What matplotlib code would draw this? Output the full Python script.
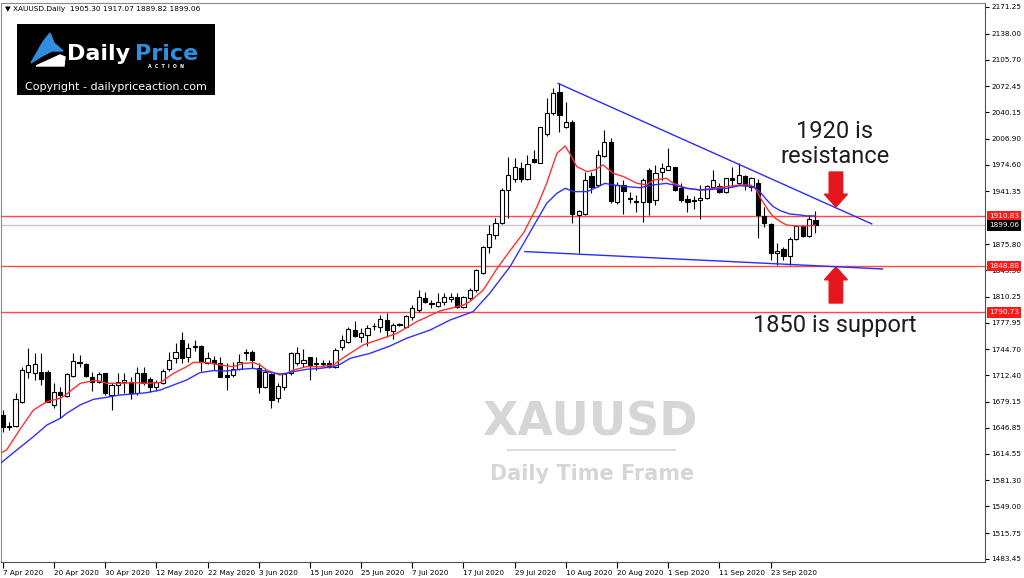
import matplotlib.pyplot as plt
import matplotlib.transforms as mtransforms
from matplotlib.patches import Rectangle, Polygon
import numpy as np

# daily candles 7 Apr 2020 .. 2 Oct 2020
opens = [1662.9, 1649.2, 1649.2, 1679.5, 1716.9, 1715.6, 1716.9, 1716.9, 1675.4, 1691.9,
         1686.6, 1711.5, 1729.3, 1726.4, 1710.7, 1704.4, 1714.8, 1687.8, 1700.3, 1704.4,
         1704.0, 1690.7, 1715.6, 1707.3, 1698.2, 1703.2, 1719.8, 1733.5, 1756.0, 1735.6,
         1748.9, 1748.9, 1727.3, 1731.4, 1728.1, 1712.7, 1712.7, 1719.8, 1741.0, 1741.8,
         1721.0, 1698.2, 1713.5, 1683.7, 1698.2, 1715.6, 1728.1, 1728.1, 1734.7, 1726.4,
         1727.3, 1727.3, 1723.1, 1747.2, 1754.2, 1768.8, 1760.5, 1762.5, 1773.8, 1772.1,
         1781.2, 1767.9, 1775.8, 1772.9, 1784.6, 1793.7, 1809.0, 1802.8, 1798.7, 1804.1,
         1807.0, 1810.3, 1797.8, 1808.2, 1818.6, 1839.4, 1872.7, 1887.2, 1901.7, 1943.3,
         1956.5, 1970.2, 1956.5, 1981.5, 1977.3, 2013.0, 2038.8, 2065.8, 2021.3, 2028.4,
         1912.1, 1913.3, 1960.7, 1949.5, 1985.6, 2003.5, 1928.7, 1949.5, 1932.8, 1930.0,
         1928.7, 1968.2, 1930.8, 1966.1, 1968.2, 1972.3, 1945.3, 1931.6, 1930.8, 1930.8,
         1932.9, 1947.4, 1948.2, 1941.2, 1957.8, 1951.5, 1960.7, 1947.4, 1951.5, 1910.8,
         1900.9, 1864.3, 1869.3, 1861.0, 1881.8, 1898.4, 1885.9, 1905.30]
highs = [1669.1, 1654.6, 1689.9, 1723.1, 1745.9, 1740.0, 1739.7, 1718.9, 1702.3, 1698.2,
         1714.8, 1740.5, 1737.6, 1728.1, 1716.9, 1716.9, 1715.5, 1702.3, 1715.6, 1714.8,
         1709.8, 1723.1, 1723.1, 1710.7, 1706.5, 1719.8, 1741.8, 1752.2, 1766.7, 1752.2,
         1756.3, 1750.1, 1741.0, 1736.4, 1735.6, 1727.3, 1729.3, 1738.9, 1744.7, 1743.9,
         1727.3, 1721.0, 1714.8, 1702.3, 1714.8, 1741.8, 1748.0, 1744.7, 1735.6, 1734.7,
         1731.4, 1731.4, 1745.9, 1762.5, 1772.9, 1780.4, 1770.8, 1775.0, 1777.1, 1787.5,
         1790.4, 1777.1, 1777.9, 1787.5, 1799.9, 1818.6, 1816.5, 1806.1, 1814.5, 1814.5,
         1815.3, 1814.5, 1811.1, 1821.5, 1844.4, 1873.4, 1899.7, 1908.0, 1945.3, 1984.8,
         1982.7, 1978.5, 1986.9, 1993.1, 2022.1, 2057.5, 2069.9, 2076.1, 2053.3, 2030.5,
         1918.3, 1966.1, 1966.1, 1993.1, 2018.0, 2007.6, 1953.6, 1955.7, 1941.2, 1937.0,
         1957.8, 1970.2, 1974.4, 1977.3, 1995.1, 1972.3, 1951.5, 1937.0, 1935.3, 1949.5,
         1949.5, 1968.2, 1951.5, 1957.8, 1972.3, 1976.5, 1961.9, 1959.8, 1956.5, 1922.5,
         1901.7, 1877.6, 1872.6, 1884.3, 1899.6, 1899.6, 1912.1, 1917.07]
lows = [1642.1, 1644.2, 1648.4, 1678.3, 1708.6, 1706.5, 1700.3, 1678.5, 1671.2, 1658.7,
        1685.7, 1710.7, 1723.1, 1710.7, 1693.2, 1702.3, 1687.8, 1669.1, 1689.0, 1690.7,
        1682.8, 1687.8, 1700.3, 1691.9, 1693.2, 1701.5, 1718.1, 1728.1, 1727.3, 1729.3,
        1743.0, 1718.1, 1726.0, 1718.9, 1709.8, 1694.0, 1710.7, 1718.9, 1731.4, 1721.0,
        1690.7, 1696.1, 1671.2, 1679.5, 1694.0, 1712.7, 1725.2, 1723.1, 1706.5, 1718.9,
        1723.1, 1721.0, 1721.0, 1743.9, 1752.2, 1760.5, 1754.2, 1748.8, 1768.8, 1766.7,
        1759.6, 1757.1, 1773.8, 1770.8, 1781.2, 1791.6, 1802.0, 1795.8, 1797.8, 1799.9,
        1804.1, 1795.8, 1795.8, 1806.1, 1816.5, 1838.5, 1864.4, 1881.8, 1900.9, 1908.0,
        1953.6, 1953.6, 1955.7, 1977.3, 1976.5, 2010.5, 2036.7, 2015.9, 2020.1, 1901.7,
        1864.3, 1912.1, 1939.9, 1947.4, 1984.0, 1926.6, 1925.8, 1913.3, 1926.6, 1916.2,
        1903.8, 1912.1, 1924.6, 1955.7, 1968.2, 1942.4, 1928.7, 1916.2, 1919.1, 1906.7,
        1932.1, 1945.3, 1939.9, 1939.9, 1947.4, 1949.5, 1943.2, 1942.4, 1883.0, 1897.6,
        1856.0, 1849.8, 1856.0, 1849.8, 1880.9, 1885.0, 1885.0, 1889.82]
closes = [1648.4, 1647.5, 1682.4, 1718.9, 1725.2, 1726.0, 1707.3, 1679.5, 1691.9, 1687.8,
          1713.5, 1730.2, 1727.3, 1711.5, 1704.4, 1714.0, 1689.9, 1700.3, 1704.4, 1706.5,
          1689.9, 1715.6, 1702.3, 1698.2, 1704.4, 1717.7, 1731.4, 1741.8, 1733.5, 1745.9,
          1747.2, 1729.3, 1733.5, 1728.1, 1710.7, 1710.7, 1719.8, 1729.3, 1740.1, 1731.4,
          1698.2, 1716.9, 1681.6, 1699.0, 1714.0, 1739.7, 1739.7, 1731.4, 1725.2, 1728.1,
          1726.9, 1723.1, 1743.9, 1756.3, 1769.6, 1761.7, 1764.6, 1770.8, 1773.4, 1782.1,
          1768.8, 1775.0, 1775.4, 1786.2, 1795.8, 1809.5, 1804.1, 1801.1, 1804.1, 1810.3,
          1810.3, 1797.8, 1810.3, 1818.6, 1843.5, 1872.6, 1888.0, 1902.6, 1943.3, 1962.0,
          1971.5, 1956.5, 1975.6, 1978.1, 2021.3, 2039.6, 2064.5, 2036.7, 2028.4, 1913.3,
          1917.5, 1955.7, 1946.6, 1986.9, 2003.5, 1929.9, 1949.5, 1942.4, 1931.6, 1928.7,
          1955.7, 1928.7, 1964.8, 1970.2, 1973.1, 1943.2, 1930.8, 1928.7, 1929.5, 1932.9,
          1948.2, 1955.7, 1941.2, 1957.8, 1955.7, 1961.9, 1949.5, 1957.8, 1912.1, 1901.7,
          1864.3, 1867.7, 1861.0, 1881.8, 1898.4, 1885.9, 1906.7, 1899.06]

# moving averages sampled from the chart (bar position, price)
red_ma_x = [-0.3, 0.6, 2.7, 4.8, 6.9, 9.0, 10.0, 12.1, 14.2, 15.2, 16.25, 18.3, 20.4, 22.5,
            24.6, 26.7, 28.75, 29.8, 31.9, 34.0, 36.0, 37.6, 39.2, 40.2, 41.25, 43.3, 44.4,
            45.4, 47.5, 49.6, 51.7, 52.7, 56.3, 61.6, 64.7, 68.3, 72.0, 73.0, 75.1, 77.2,
            79.5, 81.4, 83.5, 85.0, 86.6, 87.9, 88.9, 89.7, 91.3, 92.5, 93.8, 95.4, 97.0,
            99.1, 100.6, 101.7, 103.7, 104.8, 106.9, 109.0, 111.0, 113.1, 115.2, 116.8,
            117.6, 118.6, 119.6, 120.4, 121.5, 122.5, 124.0, 125.6, 127.0]
red_ma_y = [1615.5, 1619.3, 1645.0, 1669.1, 1679.5, 1683.7, 1689.0, 1702.3, 1705.7, 1705.2,
            1702.3, 1702.3, 1703.2, 1702.3, 1703.2, 1714.8, 1723.1, 1728.5, 1728.1, 1725.2,
            1723.1, 1727.3, 1728.1, 1725.2, 1718.9, 1712.7, 1714.8, 1718.9, 1723.1, 1723.1,
            1725.2, 1731.4, 1750.1, 1764.6, 1779.2, 1792.4, 1799.9, 1804.1, 1818.6, 1845.0,
            1870.0, 1890.0, 1922.5, 1951.6, 1988.9, 1998.1, 1984.8, 1972.3, 1966.1, 1968.2,
            1974.4, 1964.0, 1959.9, 1951.6, 1949.5, 1955.7, 1957.8, 1951.5, 1945.3, 1943.2,
            1945.3, 1947.4, 1949.5, 1949.5, 1945.3, 1930.8, 1918.3, 1910.0, 1903.8, 1899.6,
            1898.4, 1898.4, 1899.6]
blue_ma_x = [-0.3, 2.2, 4.8, 6.9, 9.0, 10.0, 12.1, 14.2, 16.25, 18.3, 20.4, 22.5, 24.6, 26.7,
             28.75, 30.8, 32.9, 35.0, 37.1, 39.2, 41.25, 43.3, 44.4, 45.4, 47.5, 49.6, 51.7,
             52.7, 54.3, 57.4, 60.5, 63.1, 66.8, 69.9, 73.5, 76.1, 79.3, 81.4, 83.5, 85.0,
             86.6, 87.9, 89.2, 91.3, 92.5, 94.1, 95.4, 97.5, 99.6, 101.7, 103.7, 104.8,
             106.9, 109.0, 111.0, 113.1, 115.2, 117.3, 118.3, 119.4, 120.4, 121.5, 123.0,
             124.6, 125.6, 127.0]
blue_ma_y = [1603.0, 1619.3, 1635.9, 1650.4, 1658.7, 1665.0, 1675.4, 1682.4, 1684.9, 1687.8,
             1689.0, 1690.7, 1694.0, 1700.3, 1706.5, 1715.6, 1718.1, 1717.7, 1719.8, 1721.0,
             1716.9, 1714.0, 1714.8, 1716.9, 1719.8, 1721.0, 1723.1, 1726.0, 1733.5, 1739.7,
             1748.8, 1758.4, 1768.8, 1781.2, 1791.6, 1814.5, 1848.0, 1876.8, 1905.9, 1926.6,
             1939.1, 1945.3, 1941.2, 1941.2, 1945.3, 1951.5, 1949.5, 1947.4, 1946.1, 1949.5,
             1951.5, 1949.5, 1945.3, 1943.2, 1944.1, 1945.3, 1948.6, 1947.4, 1941.2, 1930.8,
             1922.5, 1917.5, 1913.3, 1912.1, 1910.9, 1910.9]

# trendlines
upper_tl_x = [86.8, 135.8]
upper_tl_y = [2076.0, 1901.0]
lower_tl_x = [81.6, 137.5]
lower_tl_y = [1866.5, 1844.8]

levels = [1910.83, 1848.88, 1790.73]
bid = 1899.06

date_labels = ['7 Apr 2020', '20 Apr 2020', '30 Apr 2020', '12 May 2020', '22 May 2020',
               '3 Jun 2020', '15 Jun 2020', '25 Jun 2020', '7 Jul 2020', '17 Jul 2020',
               '29 Jul 2020', '10 Aug 2020', '20 Aug 2020', '1 Sep 2020', '11 Sep 2020',
               '23 Sep 2020']
price_ticks = [2171.25, 2138.00, 2105.70, 2072.45, 2040.15, 2006.90, 1974.60, 1941.35,
               1875.80, 1843.50, 1810.25, 1777.95, 1744.70, 1712.40, 1679.15, 1646.85,
               1614.55, 1581.30, 1549.00, 1515.75, 1483.45]

W, H = 1024, 578
fig = plt.figure(figsize=(W / 100, H / 100), dpi=100)
ax = fig.add_axes([1 / W, 16 / H, 984 / W, 559 / H])

o = np.array(opens); h = np.array(highs); l = np.array(lows); c = np.array(closes)
x = np.arange(len(o))

# levels
for lv in levels:
    ax.axhline(lv, color='#ff4848', lw=1.0, zorder=1)
ax.axhline(bid, color='#c8c8c8', lw=1.0, zorder=1)

# candles
ax.vlines(x, l, h, color='black', lw=0.8, zorder=2)
up = c >= o
bot = np.minimum(o, c)
hgt = np.maximum(np.abs(c - o), 0.6)
ax.bar(x[up], hgt[up], bottom=bot[up], width=0.66, color='white', edgecolor='black',
       linewidth=0.8, zorder=3)
ax.bar(x[~up], hgt[~up], bottom=bot[~up], width=0.66, color='black', edgecolor='black',
       linewidth=0.8, zorder=3)

# moving averages and trendlines
ax.plot(red_ma_x, red_ma_y, color='#ff3030', lw=1.0, zorder=4)
ax.plot(blue_ma_x, blue_ma_y, color='#3030ff', lw=1.0, zorder=4)
ax.plot(upper_tl_x, upper_tl_y, color='#2b2bff', lw=1.0, zorder=4)
ax.plot(lower_tl_x, lower_tl_y, color='#2b2bff', lw=1.0, zorder=4)

ax.set_xlim(-0.27, 153.5)
ax.set_ylim(1479.7, 2176.2)

ax.set_xticks(np.arange(0, 8 * len(date_labels), 8))
ax.set_xticklabels(date_labels, ha='left', fontsize=5.2)
ax.yaxis.tick_right()
ax.set_yticks(price_ticks)
ax.set_yticklabels(['%.2f' % p for p in price_ticks], fontsize=5.2)
ax.tick_params(axis='x', length=4, width=0.8, pad=1.5, direction='out')
ax.tick_params(axis='y', length=3, width=0.8, pad=1.5, direction='out')
for side in ['left', 'top']:
    ax.spines[side].set_color('#8a8a8a')
for side in ['right', 'bottom']:
    ax.spines[side].set_color('#505050')

# right-side price boxes
trans = mtransforms.blended_transform_factory(ax.transAxes, ax.transData)
for val, fc in [(1910.83, '#ff1a1a'), (bid, 'black'), (1848.88, '#ff1a1a'), (1790.73, '#ff1a1a')]:
    ax.text(1.004, val, '%.2f' % val, transform=trans, fontsize=5.2, color='white',
            va='center', ha='left', clip_on=False, zorder=10,
            bbox=dict(boxstyle='square,pad=0.3', fc=fc, ec='none'))

# arrows
ax.arrow(130.2, 1965.6, 0, -43.6, width=2.1, head_width=3.6, head_length=16,
         length_includes_head=True, color='#e5161d', zorder=6)
ax.arrow(130.2, 1802.4, 0, 44.9, width=2.1, head_width=3.6, head_length=16,
         length_includes_head=True, color='#e5161d', zorder=6)

# annotations
ax.text(130.0, 2007.6, '1920 is', fontsize=17, family='Roboto', ha='center', va='baseline',
        color='#1e1e1e', zorder=7)
ax.text(130.0, 1976.5, 'resistance', fontsize=17, family='Roboto', ha='center', va='baseline',
        color='#1e1e1e', zorder=7)
ax.text(130.0, 1766.3, '1850 is support', fontsize=17, family='Roboto', ha='center',
        va='baseline', color='#1e1e1e', zorder=7)

# watermark
fig.text(590 / W, 1 - 435 / H, 'XAUUSD', fontsize=33, weight='bold', color='#d6d6d6',
         ha='center', va='baseline')
fig.add_artist(plt.Line2D([508 / W, 675 / W], [1 - 450 / H, 1 - 450 / H], color='#dcdcdc', lw=1.5))
fig.text(592 / W, 1 - 480 / H, 'Daily Time Frame', fontsize=15, weight='bold', color='#d6d6d6',
         ha='center', va='baseline')

# header
fig.text(5 / W, 1 - 11 / H, '\u25bc XAUUSD.Daily  1905.30 1917.07 1889.82 1899.06',
         fontsize=5.3, color='black', va='baseline', ha='left')

# logo
lax = fig.add_axes([17 / W, 1 - 95 / H, 198 / W, 71 / H])
lax.set_xlim(17, 215)
lax.set_ylim(95, 24)
lax.axis('off')
lax.add_patch(Rectangle((17, 24), 198, 71, color='black'))
lax.add_patch(Polygon([(31, 63), (43, 42), (50, 33), (54, 43), (63, 51), (52, 51), (42, 56)],
                      closed=True, color='#2f8ee0'))
lax.add_patch(Polygon([(36, 66), (60, 55), (65, 57), (64, 66)], closed=True, color='white'))
lax.text(67, 59.5, 'Daily', fontsize=16, weight='bold', color='white', va='baseline', ha='left')
lax.text(198, 59.5, 'Price', fontsize=16, weight='bold', color='#2f8ee0', va='baseline',
         ha='right')
lax.text(166, 68.5, 'A  C  T  I  O  N', fontsize=3.4, weight='bold', color='white',
         va='baseline', ha='center')
lax.text(116, 90, 'Copyright - dailypriceaction.com', fontsize=8, color='white',
         va='baseline', ha='center')

fig.savefig('out.png', dpi=100)
